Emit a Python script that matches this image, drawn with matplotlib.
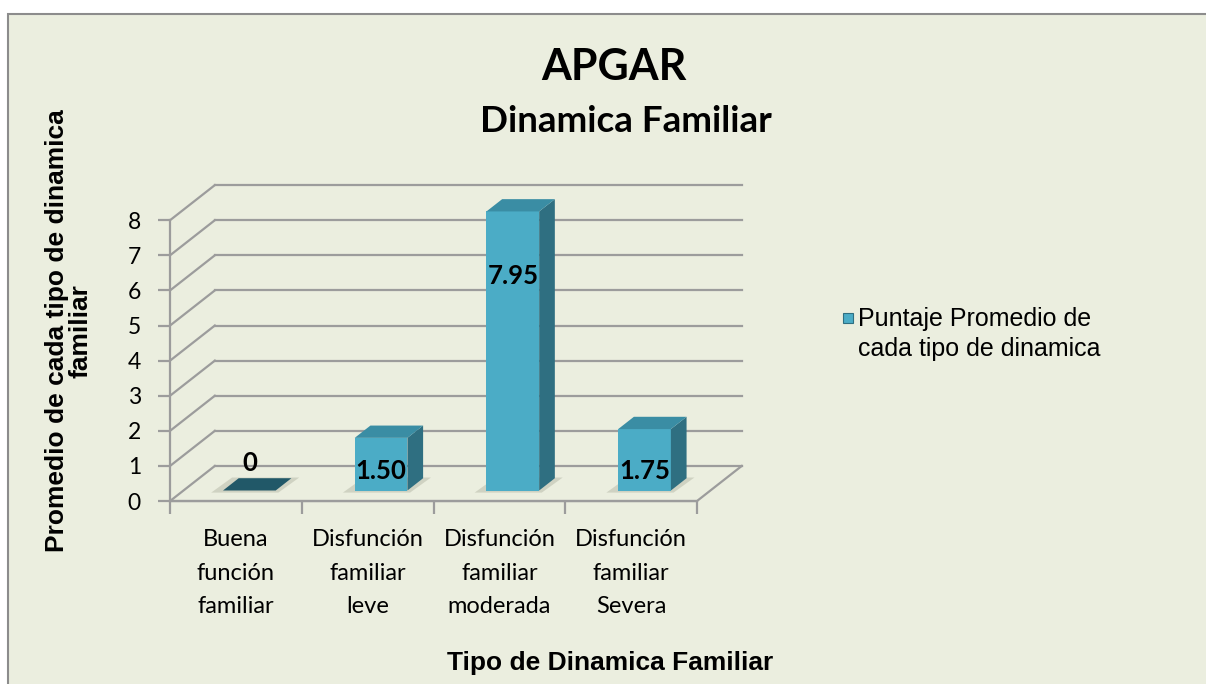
import numpy as np
import matplotlib
matplotlib.use("Agg")
import matplotlib.pyplot as plt
from matplotlib.patches import Polygon, Rectangle

# data
categories = ["Buena\nfunción\nfamiliar", "Disfunción\nfamiliar\nleve",
              "Disfunción\nfamiliar\nmoderada", "Disfunción\nfamiliar\nSevera"]
values = [0, 1.50, 7.95, 1.75]
value_labels = ["0", "1.50", "7.95", "1.75"]
yticks = [0, 1, 2, 3, 4, 5, 6, 7, 8]
series_name = "Puntaje Promedio de\ncada tipo de dinamica"

bg = "#EBEEDF"
grid_c = "#9C9C9C"
front_c = "#4BACC6"
side_c = "#2F6F81"
top_c = "#3A8DA4"
zero_c = "#215868"
calibri = ["Lato", "DejaVu Sans"]
arial = ["Liberation Sans", "DejaVu Sans"]

fig = plt.figure(figsize=(12.06, 6.84), dpi=100)
fig.patch.set_facecolor("white")
fig.patches.append(Rectangle((8 / 1206, -0.1), 1.2, 0.1 + (684 - 14) / 684,
                             transform=fig.transFigure, facecolor=bg,
                             edgecolor="#8C8C8C", lw=1.5, zorder=-5))

ax = fig.add_axes([0.1279, 0.2367, 0.4959, 0.5132])
ax.set_xlim(-0.62, 3.92)
ax.set_ylim(-0.6, 9.4)
ax.patch.set_visible(False)

# oblique depth offset of the 3d box
dx, dy = 0.34, 1.0
x0, x1 = -0.5, len(values) - 0.5
ymax = yticks[-1]

# back wall gridlines + side wall depth lines
for k in yticks:
    ax.plot([x0 + dx, x1 + dx], [k + dy, k + dy], color=grid_c, lw=1.6, zorder=1)
    ax.plot([x0, x0 + dx], [k, k + dy], color=grid_c, lw=1.6, zorder=1)
# floor
ax.plot([x0, x1, x1 + dx], [0, 0, dy], color=grid_c, lw=1.6, zorder=2)

# bars
w = 0.40
d0, d1 = 0.30, 0.65
for i, v in enumerate(values):
    xc = i + d0 * dx
    xl, xr = xc - w / 2, xc + w / 2
    b = d0 * dy
    ddx, ddy = (d1 - d0) * dx, (d1 - d0) * dy
    # shadow on floor
    ax.add_patch(Polygon([(xl - 0.09, b - 0.06), (xr + 0.02, b - 0.06),
                          (xr + ddx + 0.06, b + ddy + 0.02), (xl + ddx - 0.05, b + ddy + 0.02)],
                         closed=True, facecolor="#C4C7B6", edgecolor="none", alpha=0.7, zorder=2))
    if v == 0:
        ax.add_patch(Polygon([(xl, b), (xr, b), (xr + ddx, b + ddy), (xl + ddx, b + ddy)],
                             closed=True, facecolor=zero_c, edgecolor="none", zorder=3))
        ly = b + 0.78
    else:
        ax.add_patch(Rectangle((xl, b), w, v, facecolor=front_c, edgecolor="none", zorder=4))
        ax.add_patch(Polygon([(xr, b), (xr + ddx, b + ddy), (xr + ddx, b + v + ddy), (xr, b + v)],
                             closed=True, facecolor=side_c, edgecolor="none", zorder=4))
        ax.add_patch(Polygon([(xl, b + v), (xr, b + v), (xr + ddx, b + v + ddy), (xl + ddx, b + v + ddy)],
                             closed=True, facecolor=top_c, edgecolor="none", zorder=4))
        ly = v - 1.55 if v > 4 else b + 0.55
    ax.text(xc, ly, value_labels[i], ha="center", va="center", fontsize=18.5,
            fontweight="bold", family=calibri, zorder=6)

# axes
for s in ["top", "right"]:
    ax.spines[s].set_visible(False)
ax.spines["left"].set_position(("data", x0))
ax.spines["left"].set_bounds(0, ymax)
ax.spines["bottom"].set_position(("data", 0))
ax.spines["bottom"].set_bounds(x0, x1)
for s in ["left", "bottom"]:
    ax.spines[s].set_color(grid_c)
    ax.spines[s].set_linewidth(1.6)
ax.set_yticks(yticks)
ax.set_yticklabels([str(t) for t in yticks], family=calibri, fontsize=16.5)
ax.tick_params(axis="y", length=9, width=1.6, color=grid_c, pad=12)
ax.set_xticks(np.arange(len(values) + 1) - 0.5)
ax.set_xticklabels([])
ax.set_xticks(np.arange(len(values)), minor=True)
ax.set_xticklabels(categories, minor=True, family=calibri, fontsize=17, linespacing=1.75)
ax.tick_params(axis="x", which="major", length=9, width=1.6, color=grid_c)
ax.tick_params(axis="x", which="minor", length=0, pad=20)

# titles
fig.text(614 / 1206, 1 - 67 / 684, "APGAR", ha="center", va="center",
         fontsize=31, fontweight="bold", family=calibri)
fig.text(626 / 1206, 1 - 121 / 684, "Dinamica Familiar", ha="center", va="center",
         fontsize=26.5, fontweight="bold", family=calibri)
fig.text(610 / 1206, 1 - 663 / 684, "Tipo de Dinamica Familiar", ha="center", va="center",
         fontsize=19, fontweight="bold", family=arial)
fig.text(69 / 1206, 1 - 331 / 684, "Promedio de cada tipo de dinamica\nfamiliar",
         ha="center", va="center", rotation=90, fontsize=19, fontweight="bold",
         family=arial, linespacing=1.0)

# legend
fig.patches.append(Rectangle((843 / 1206, 1 - 323 / 684), 10 / 1206, 10 / 684,
                             transform=fig.transFigure, facecolor=front_c,
                             edgecolor=side_c, lw=0.8))
fig.text(858 / 1206, 1 - 334 / 684, series_name, ha="left", va="center",
         fontsize=18, family=arial, linespacing=1.3)

fig.savefig("out.png", dpi=100, facecolor=fig.get_facecolor())
